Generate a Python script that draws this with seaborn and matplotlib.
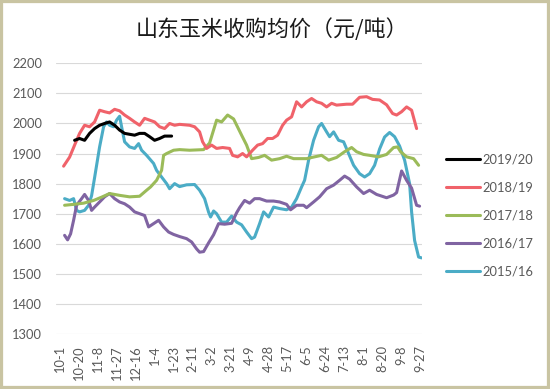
import matplotlib
matplotlib.use('Agg')
import matplotlib.pyplot as plt
import seaborn as sns
from matplotlib.patches import Rectangle

# ---------------- data ----------------
title = "山东玉米收购均价（元/吨）"
tick_labels = ["10-1", "10-20", "11-8", "11-27", "12-16", "1-4", "1-23", "2-11", "3-2",
               "3-21", "4-9", "4-28", "5-17", "6-5", "6-24", "7-13", "8-1", "8-20",
               "9-8", "9-27"]
tick_days = list(range(0, 362, 19))
y_ticks = [1300, 1400, 1500, 1600, 1700, 1800, 1900, 2000, 2100, 2200]

names = ["2019/20", "2018/19", "2017/18", "2016/17", "2015/16"]
colors = ["#000000", "#f0626a", "#9bbb59", "#8064a2", "#4bacc6"]

days_1920 = [15, 20, 25, 30, 35, 40, 45, 50, 55, 60, 65, 70, 75, 80, 85, 90, 95, 100, 105, 112]
vals_1920 = [1944, 1950, 1944, 1967, 1983, 1994, 2000, 2005, 1994, 1978, 1967, 1964, 1961,
             1967, 1967, 1956, 1944, 1950, 1958, 1958]

days_1819 = [4, 10, 15, 20, 25, 30, 35, 40, 45, 50, 55, 60, 65, 70, 75, 80, 85, 90, 95, 100,
             105, 110, 115, 120, 130, 135, 140, 143, 147, 152, 157, 163, 170, 173, 178, 183,
             187, 193, 198, 203, 208, 213, 218, 223, 227, 232, 237, 242, 247, 252, 257, 262,
             267, 272, 277, 287, 293, 300, 307, 313, 320, 327, 333, 337, 342, 347, 352, 357]
vals_1819 = [1858, 1888, 1928, 1967, 1994, 1989, 2005, 2044, 2039, 2035, 2047, 2042, 2028,
             2017, 2005, 1994, 2017, 2011, 2005, 1989, 1983, 2000, 1994, 1997, 1994, 1989,
             1972, 1939, 1917, 1928, 1917, 1920, 1917, 1894, 1889, 1900, 1889, 1911, 1928,
             1933, 1950, 1950, 1961, 1994, 2011, 2022, 2072, 2055, 2072, 2083, 2072, 2067,
             2055, 2067, 2061, 2064, 2064, 2087, 2089, 2080, 2078, 2062, 2033, 2028, 2039,
             2055, 2044, 1983]

days_1718 = [5, 14, 24, 34, 42, 50, 60, 70, 80, 87, 91, 97, 102, 104, 107, 114, 120, 130, 144,
             150, 157, 162, 168, 174, 182, 187, 192, 199, 205, 212, 220, 227, 234, 240, 247,
             255, 262, 269, 277, 285, 292, 297, 304, 310, 319, 327, 334, 338, 341, 347, 354, 359]
vals_1718 = [1728, 1731, 1735, 1744, 1755, 1767, 1761, 1756, 1758, 1778, 1789, 1811, 1844,
             1894, 1900, 1911, 1913, 1911, 1913, 1935, 2011, 2005, 2028, 2015, 1961, 1928,
             1883, 1887, 1894, 1878, 1883, 1891, 1883, 1883, 1883, 1889, 1894, 1878, 1887,
             1906, 1920, 1906, 1897, 1894, 1889, 1897, 1920, 1922, 1906, 1889, 1883, 1861]

days_1617 = [5, 8, 11, 14, 17, 22, 25, 29, 32, 35, 40, 45, 50, 55, 60, 65, 70, 75, 80, 85,
             89, 94, 99, 104, 109, 114, 120, 127, 132, 137, 140, 144, 149, 154, 159, 165, 172,
             177, 180, 185, 190, 195, 200, 207, 214, 220, 227, 231, 237, 244, 247, 254, 260,
             267, 274, 280, 285, 290, 297, 304, 310, 317, 327, 334, 337, 342, 347, 352, 357, 360]
vals_1617 = [1628, 1613, 1633, 1678, 1728, 1750, 1764, 1744, 1711, 1722, 1739, 1756, 1767,
             1750, 1739, 1733, 1722, 1706, 1700, 1694, 1656, 1667, 1678, 1656, 1639, 1631,
             1624, 1617, 1606, 1583, 1572, 1574, 1603, 1630, 1667, 1665, 1668, 1703, 1720,
             1744, 1735, 1750, 1750, 1742, 1742, 1739, 1731, 1713, 1728, 1728, 1720, 1739,
             1756, 1783, 1795, 1811, 1825, 1815, 1789, 1767, 1778, 1764, 1753, 1762, 1770,
             1842, 1811, 1785, 1728, 1725]

days_1516 = [5, 10, 14, 17, 20, 25, 29, 32, 35, 40, 44, 47, 50, 54, 57, 60, 62, 65, 70, 75,
             79, 82, 87, 94, 97, 102, 107, 110, 115, 120, 127, 135, 140, 145, 149, 151, 154,
             157, 162, 167, 172, 177, 182, 187, 192, 195, 200, 204, 209, 214, 220, 227, 232,
             237, 242, 245, 249, 254, 259, 262, 267, 270, 274, 279, 284, 289, 294, 300, 305,
             310, 315, 320, 325, 330, 335, 340, 345, 350, 352, 355, 359, 362]
vals_1516 = [1750, 1744, 1750, 1711, 1706, 1711, 1728, 1760, 1820, 1922, 1989, 2005, 1994,
             1989, 2011, 2024, 1989, 1939, 1922, 1917, 1933, 1911, 1894, 1867, 1844, 1822,
             1800, 1783, 1800, 1790, 1796, 1797, 1778, 1750, 1705, 1689, 1709, 1700, 1672,
             1672, 1692, 1672, 1663, 1639, 1617, 1622, 1667, 1706, 1689, 1722, 1717, 1713,
             1722, 1750, 1789, 1811, 1878, 1944, 1989, 2000, 1972, 1956, 1972, 1944, 1939,
             1900, 1861, 1833, 1822, 1833, 1861, 1915, 1955, 1970, 1956, 1925, 1878, 1800,
             1706, 1611, 1556, 1553]

all_days = [days_1920, days_1819, days_1718, days_1617, days_1516]
all_vals = [vals_1920, vals_1819, vals_1718, vals_1617, vals_1516]

# ---------------- plot ----------------
sns.set_style("white")
plt.rcParams['font.family'] = ['Lato', 'DejaVu Sans']

W, H = 550, 389
fig = plt.figure(figsize=(W / 100, H / 100), dpi=100)
fig.patch.set_facecolor('white')
ax = fig.add_axes([56 / W, 1 - 334 / H, (422 - 56) / W, (334 - 63.3) / H])

zorders = [6, 5, 4, 3, 2]
for name, d, v, c, z in zip(names, all_days, all_vals, colors, zorders):
    sns.lineplot(x=d, y=v, ax=ax, color=c, linewidth=2.2, estimator=None,
                 label=name, zorder=z)
h, l = ax.get_legend_handles_labels()

ax.set_xlim(-3.6, 362.4)
ax.set_ylim(1300, 2200)
ax.set_yticks(y_ticks)
ax.set_xticks(tick_days)
ax.set_xticklabels(tick_labels, rotation=90)
ax.grid(axis='y', color='#d9d9d9', linewidth=0.8)
ax.grid(axis='x', visible=False)
ax.set_axisbelow(True)
for s in ax.spines.values():
    s.set_visible(False)
ax.tick_params(axis='x', length=0, pad=8, labelsize=9.3, labelcolor='#595959')
ax.tick_params(axis='y', length=0, pad=10, labelsize=9.3, labelcolor='#595959')
ax.set_xlabel('')
ax.set_ylabel('')

leg = ax.legend(h, l, loc='upper left', bbox_to_anchor=(446 / W, 1 - 154 / H),
                bbox_transform=fig.transFigure, frameon=False, fontsize=9.3,
                handlelength=2.6, handletextpad=0.2, labelspacing=1.22,
                borderpad=0, borderaxespad=0, labelcolor='#595959')
for line in leg.get_lines():
    line.set_linewidth(2.2)

fig.text(271.5 / W, 1 - 30 / H, title, ha='center', va='center', fontsize=15.8,
         family=['Noto Sans CJK SC', 'DejaVu Sans'], color='#1a1a1a')

fig.patches.append(Rectangle((0, 0), 1, 1, transform=fig.transFigure, fill=False,
                             edgecolor='#c9c4a2', linewidth=4.5, zorder=10))

fig.savefig('out.png', dpi=100)
